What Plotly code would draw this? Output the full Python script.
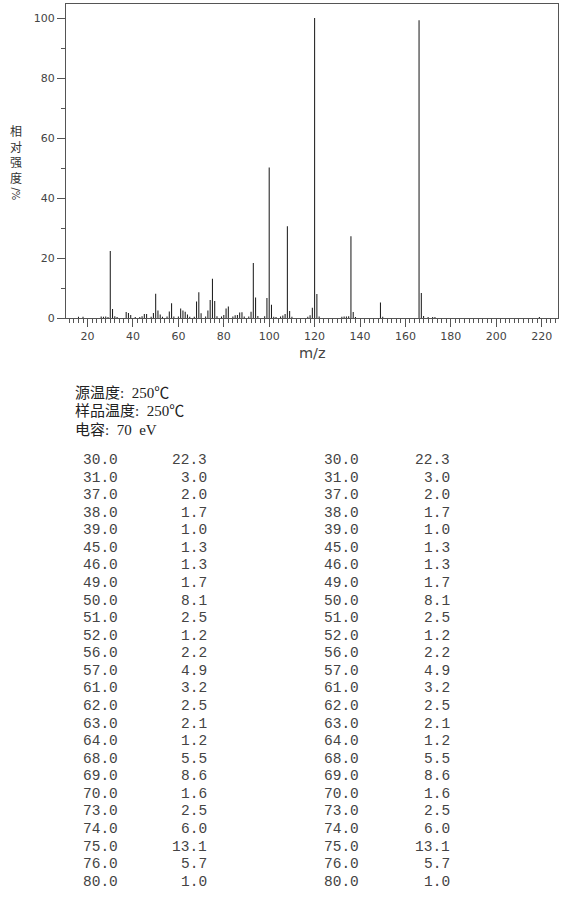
import plotly.graph_objects as go

# ---- spectrum data (m/z, relative intensity %) ----
mz = [16, 18, 26, 27, 28, 29, 30, 31, 32, 33, 37, 38, 39, 41, 43, 44, 45, 46, 48, 49,
      50, 51, 52, 53, 55, 56, 57, 58, 60, 61, 62, 63, 64, 65, 67, 68, 69, 70, 72, 73,
      74, 75, 76, 77, 79, 80, 81, 82, 84, 85, 86, 87, 88, 89, 91, 92, 93, 94, 95, 98,
      99, 100, 101, 102, 103, 105, 106, 107, 108, 109, 110, 117, 118, 119, 120, 121, 122,
      132, 133, 134, 135, 136, 137, 138, 149, 150, 166, 167, 168, 170, 172, 173, 219]
intensity = [0.4, 0.4, 0.5, 0.4, 0.5, 0.3, 22.3, 3.0, 0.6, 0.3, 2.0, 1.7, 1.0, 0.3, 0.3, 0.6, 1.3, 1.3, 0.4, 1.7,
             8.1, 2.5, 1.2, 0.4, 0.5, 2.2, 4.9, 0.5, 0.5, 3.2, 2.5, 2.1, 1.2, 0.4, 0.4, 5.5, 8.6, 1.6, 0.5, 2.5,
             6.0, 13.1, 5.7, 0.6, 0.5, 1.0, 3.2, 3.8, 0.5, 0.9, 1.0, 1.8, 1.9, 0.5, 0.5, 2.1, 18.3, 6.8, 0.7, 0.6,
             6.7, 50.2, 4.4, 0.4, 0.3, 0.5, 0.8, 1.3, 30.6, 2.3, 0.4, 0.4, 0.9, 3.4, 100.0, 8.0, 0.5,
             0.4, 0.5, 0.5, 0.6, 27.3, 2.0, 0.3, 5.2, 0.4, 99.3, 8.3, 0.7, 0.3, 0.3, 0.3, 0.3]

# ---- peak table ----
table_mz = ["30.0", "31.0", "37.0", "38.0", "39.0", "45.0", "46.0", "49.0", "50.0", "51.0",
            "52.0", "56.0", "57.0", "61.0", "62.0", "63.0", "64.0", "68.0", "69.0", "70.0",
            "73.0", "74.0", "75.0", "76.0", "80.0"]
table_int = ["22.3", "3.0", "2.0", "1.7", "1.0", "1.3", "1.3", "1.7", "8.1", "2.5",
             "1.2", "2.2", "4.9", "3.2", "2.5", "2.1", "1.2", "5.5", "8.6", "1.6",
             "2.5", "6.0", "13.1", "5.7", "1.0"]

# en-spaces mimic the half-width spacing of the original fixed-pitch font
header_lines = ["源温度:\u2002250℃", "样品温度:\u2002250℃", "电容:\u200270\u2002eV"]
ytitle_text = "相<br>对<br>强<br>度"
x_ticks = [20, 40, 60, 80, 100, 120, 140, 160, 180, 200, 220]
y_ticks = [0, 20, 40, 60, 80, 100]

W, H = 570, 903
L, R, T, B = 66, 558, 4, 318


def xp(px):
    return (px - L) / (R - L)


def yp(py):
    return (B - py) / (B - T)


fig = go.Figure()
fig.add_trace(go.Bar(x=mz, y=intensity, width=0.45,
                     marker=dict(color="rgba(20,20,20,0.98)", line=dict(width=0)),
                     hoverinfo="x+y"))

axcol = "#555555"
tickfont = dict(family="DejaVu Sans", size=11, color="#444444")
fig.update_xaxes(range=[10.5, 227.2], tickvals=x_ticks, ticks="outside", ticklen=8,
                 tickcolor=axcol, tickwidth=1,
                 minor=dict(dtick=2, tick0=0, ticks="outside", ticklen=4, tickcolor=axcol, tickwidth=1),
                 showline=True, mirror=True, linecolor=axcol, linewidth=1,
                 showgrid=False, zeroline=False, tickfont=tickfont)
fig.update_yaxes(range=[0, 104.7], tickvals=y_ticks, ticks="outside", ticklen=8,
                 tickcolor=axcol, tickwidth=1,
                 minor=dict(dtick=10, tick0=0, ticks="outside", ticklen=4, tickcolor=axcol, tickwidth=1),
                 showline=True, mirror=True, linecolor=axcol, linewidth=1,
                 showgrid=False, zeroline=False, tickfont=tickfont)

ann = []
# x axis title
ann.append(dict(text="m/z", x=xp(312), y=yp(353), xref="paper", yref="paper",
                showarrow=False, xanchor="center", yanchor="middle",
                font=dict(family="DejaVu Sans", size=14.5, color="#444444")))
# y axis title (stacked characters)
ann.append(dict(text=ytitle_text, x=xp(15.5), y=yp(154), xref="paper", yref="paper",
                showarrow=False, xanchor="center", yanchor="middle",
                font=dict(family="Noto Sans CJK SC", size=12, color="#333333")))
ann.append(dict(text="/%", x=xp(15.5), y=yp(194), xref="paper", yref="paper",
                showarrow=False, xanchor="center", yanchor="middle", textangle=90,
                font=dict(family="DejaVu Sans", size=10, color="#333333")))
# header lines
for i, line in enumerate(header_lines):
    ann.append(dict(text=line, x=xp(73), y=yp(392.7 + i * 18.7), xref="paper", yref="paper",
                    showarrow=False, xanchor="left", yanchor="middle",
                    font=dict(family="Liberation Serif, Noto Sans CJK SC", size=15, color="#222222")))
# table
mono = dict(family="Liberation Mono", size=14.5, color="#444444")
for i, (m, v) in enumerate(zip(table_mz, table_int)):
    yy = yp(460 + i * 17.57)
    for xl, xr in ((80.5, 209), (322, 451.5)):
        ann.append(dict(text=m, x=xp(xl), y=yy, xref="paper", yref="paper", showarrow=False,
                        xanchor="left", yanchor="middle", font=mono))
        ann.append(dict(text=v, x=xp(xr), y=yy, xref="paper", yref="paper", showarrow=False,
                        xanchor="right", yanchor="middle", font=mono))

fig.update_layout(width=W, height=H, margin=dict(l=L, r=W - R, t=T, b=H - B),
                  plot_bgcolor="white", paper_bgcolor="white", showlegend=False,
                  annotations=ann)

fig.write_html("out.html", config={"displayModeBar": False},
               post_script="document.body.style.margin='0px';document.body.style.overflow='hidden';")
